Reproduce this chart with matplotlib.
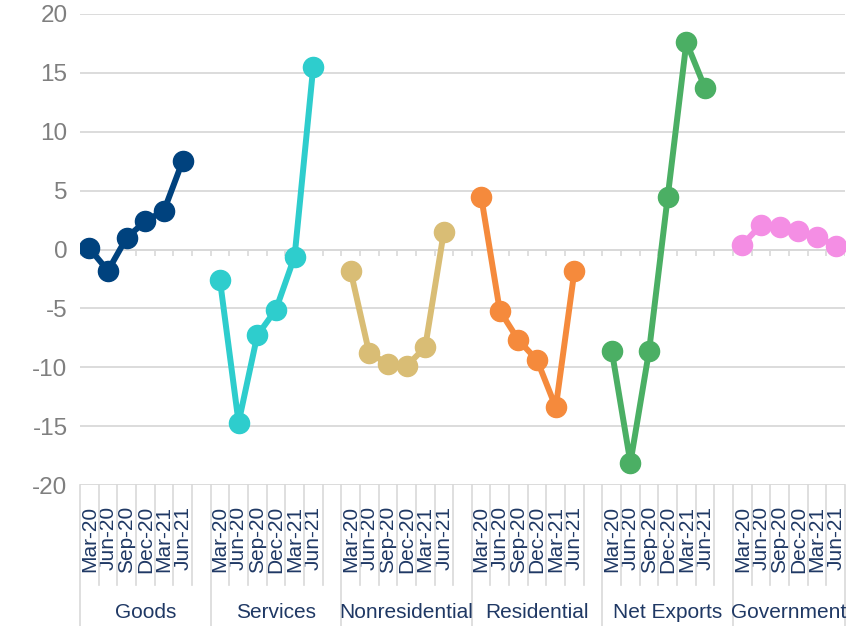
import numpy as np
import matplotlib
matplotlib.use("Agg")
import matplotlib.pyplot as plt
import matplotlib.transforms as mtransforms

plt.rcParams['font.family'] = ['Liberation Sans', 'DejaVu Sans']
plt.rcParams['axes.unicode_minus'] = False

quarters = ["Mar-20", "Jun-20", "Sep-20", "Dec-20", "Mar-21", "Jun-21"]
groups = ["Goods", "Services", "Nonresidential", "Residential", "Net Exports", "Government"]

goods = [0.1, -1.8, 1.0, 2.4, 3.3, 7.5]
services = [-2.6, -14.7, -7.3, -5.1, -0.6, 15.5]
nonresidential = [-1.8, -8.8, -9.7, -9.9, -8.3, 1.5]
residential = [4.5, -5.2, -7.7, -9.4, -13.4, -1.8]
net_exports = [-8.6, -18.1, -8.6, 4.5, 17.6, 13.7]
government = [0.4, 2.1, 1.9, 1.6, 1.1, 0.3]

series = [goods, services, nonresidential, residential, net_exports, government]
colors = ["#00427E", "#2ECDCD", "#D9BD75", "#F58A3C", "#4BAF64", "#F48EE4"]

W, H = 854, 626
fig = plt.figure(figsize=(W / 100, H / 100), dpi=100)
ax = fig.add_axes([80 / W, 1 - 485 / H, 765 / W, 471 / H])

step = len(quarters) + 1  # one blank slot between groups
n_slots = step * len(groups) - 1

ax.set_xlim(-0.5, n_slots - 0.5)
ax.set_ylim(-20, 20)
ax.set_yticks(range(-20, 21, 5))
ax.yaxis.grid(True, color="#d9d9d9", lw=1.3)
ax.set_axisbelow(True)
for s in ax.spines.values():
    s.set_visible(False)
ax.tick_params(axis="y", length=0, pad=9, labelsize=17.5, labelcolor="#7f7f7f")

# zero line with small category ticks
ax.axhline(0, color="#d9d9d9", lw=1.3, zorder=1)
bounds = np.arange(n_slots + 1) - 0.5
ax.vlines(bounds, -0.55, 0, color="#d9d9d9", lw=1.2, zorder=1)

# series
xpos, xlabels = [], []
for g, (vals, col) in enumerate(zip(series, colors)):
    x = np.arange(len(vals)) + g * step
    ax.plot(x, vals, color=col, lw=4.3, marker="o", ms=14.5, mec=col, mfc=col,
            solid_capstyle="round", zorder=3)
    xpos.extend(x)
    xlabels.extend(quarters)

ax.set_xticks(xpos)
ax.set_xticklabels(xlabels, rotation=90, fontsize=15, color="#1F3864")
ax.tick_params(axis="x", length=0, pad=15)

# multi-level category frame
trans = mtransforms.blended_transform_factory(ax.transData, ax.transAxes)
px = 1 / 471
inner_bottom = -100 * px
outer_bottom = -141 * px
for k, b in enumerate(bounds):
    if k % step == 0 or k == n_slots:
        y0 = outer_bottom
    else:
        y0 = inner_bottom
    ax.plot([b, b], [0, y0], color="#d9d9d9", lw=1.2, transform=trans, clip_on=False)

for g, name in enumerate(groups):
    left = g * step - 0.5
    right = min(left + step, n_slots - 0.5)
    ax.text((left + right) / 2, -127 * px, name, transform=trans, ha="center",
            va="center", fontsize=15, color="#1F3864")

fig.savefig("out.png", dpi=100)
